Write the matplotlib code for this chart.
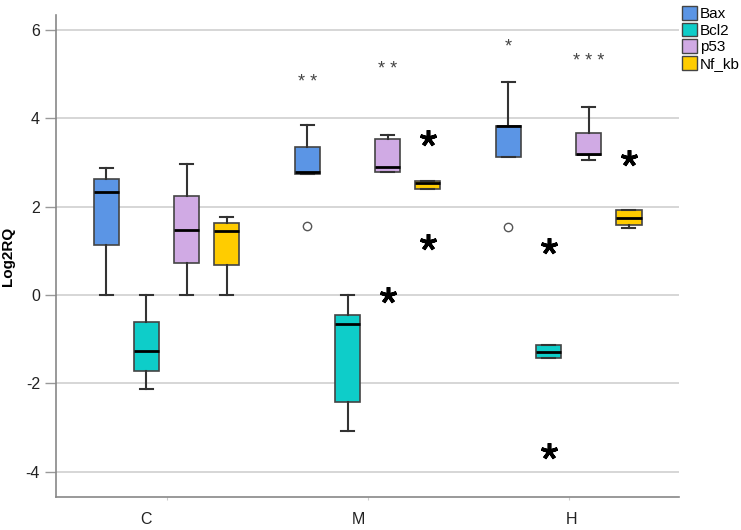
import numpy as np
import matplotlib.pyplot as plt
from matplotlib.patches import Patch
from matplotlib.transforms import ScaledTranslation

plt.rcParams["font.family"] = ["Liberation Sans", "DejaVu Sans"]
plt.rcParams["axes.unicode_minus"] = False

# === Data ===
groups = ["C", "M", "H"]
genes = ["Bax", "Bcl2", "p53", "Nf_kb"]
colors = ["#5B95E5", "#0ECDC9", "#D0AAE4", "#FFCC00"]

# per gene: [C, M, H]
whislo = {"Bax": [0.0, 2.73, 3.12], "Bcl2": [-2.13, -3.08, -1.43],
          "p53": [0.0, 2.78, 3.05], "Nf_kb": [0.0, 2.39, 1.51]}
q1 = {"Bax": [1.13, 2.73, 3.12], "Bcl2": [-1.72, -2.43, -1.43],
      "p53": [0.72, 2.78, 3.17], "Nf_kb": [0.68, 2.39, 1.59]}
med = {"Bax": [2.33, 2.78, 3.82], "Bcl2": [-1.26, -0.66, -1.28],
       "p53": [1.47, 2.89, 3.18], "Nf_kb": [1.45, 2.53, 1.75]}
q3 = {"Bax": [2.62, 3.35, 3.82], "Bcl2": [-0.60, -0.45, -1.14],
      "p53": [2.23, 3.54, 3.67], "Nf_kb": [1.64, 2.57, 1.92]}
whishi = {"Bax": [2.87, 3.85, 4.83], "Bcl2": [0.0, 0.0, -1.14],
          "p53": [2.97, 3.63, 4.26], "Nf_kb": [1.76, 2.57, 1.92]}
outliers = {"Bax": [[], [1.55], [1.53]], "Bcl2": [[], [], []],
            "p53": [[], [], []], "Nf_kb": [[], [], []]}
extremes = {"Bax": [[], [], []], "Bcl2": [[], [], [1.10, -3.53]],
            "p53": [[], [0.0], []], "Nf_kb": [[], [3.55, 1.21], [3.10]]}

# significance marks: (group, gene, text, y)
signif = [("M", "Bax", "* *", 4.80), ("M", "p53", "* *", 5.10),
          ("H", "Bax", "*", 5.60), ("H", "p53", "* * *", 5.29)]

# === Layout ===
offsets = [-0.3, -0.1, 0.1, 0.3]
box_w = 0.125

fig = plt.figure(figsize=(7.41, 5.30), dpi=100)
ax = fig.add_axes([0.0756, 0.0623, 0.841, 0.909])

for gi, gene in enumerate(genes):
    stats = []
    pos = []
    for k, g in enumerate(groups):
        stats.append(dict(whislo=whislo[gene][k], q1=q1[gene][k], med=med[gene][k],
                          q3=q3[gene][k], whishi=whishi[gene][k],
                          fliers=outliers[gene][k]))
        pos.append(k + offsets[gi])
    ax.bxp(stats, positions=pos, widths=box_w, patch_artist=True,
           showfliers=True, capwidths=0.065,
           boxprops=dict(facecolor=colors[gi], edgecolor="#444444", linewidth=1.2),
           medianprops=dict(color="black", linewidth=2),
           whiskerprops=dict(color="#333333", linewidth=1.5),
           capprops=dict(color="#333333", linewidth=1.5),
           flierprops=dict(marker="o", markerfacecolor="none",
                           markeredgecolor="#555555", markersize=6, markeredgewidth=1))
    for k in range(len(groups)):
        ys = extremes[gene][k]
        if ys:
            ax.plot([k + offsets[gi]] * len(ys), ys, linestyle="none",
                    marker=(5, 2, 0), markersize=12, markeredgewidth=2.6,
                    color="black", zorder=5)

for g, gene, txt, y in signif:
    x = groups.index(g) + offsets[genes.index(gene)]
    ax.text(x, y, txt, ha="center", va="center", fontsize=13, color="#444444")

ax.set_xlim(-0.55, 2.55)
ax.set_ylim(-4.57, 6.33)
ax.set_xticks(range(len(groups)))
ax.set_xticklabels(groups, fontsize=11.5, color="#222222")
ax.set_yticks([-4, -2, 0, 2, 4, 6])
ax.tick_params(axis="y", labelsize=11.5, colors="#222222", length=8, color="#999999", width=1)
ax.tick_params(axis="x", length=2, color="#cccccc", pad=9)
# SPSS places the category labels slightly off their ticks
for lab, dx in zip(ax.get_xticklabels(), [-21, -9, 3]):
    lab.set_transform(lab.get_transform() + ScaledTranslation(dx / 100, 0, fig.dpi_scale_trans))

ax.grid(axis="y", color="#cfcfcf", linewidth=1.2)
ax.set_axisbelow(True)
for s in ["top", "right"]:
    ax.spines[s].set_visible(False)
for s in ["left", "bottom"]:
    ax.spines[s].set_color("#888888")
    ax.spines[s].set_linewidth(1.2)

ax.set_ylabel("Log2RQ", fontsize=11, fontweight="bold", labelpad=8)

handles = [Patch(facecolor=c, edgecolor="#444444", label=g) for g, c in zip(genes, colors)]
fig.legend(handles=handles, loc="upper left", bbox_to_anchor=(0.912, 1.0),
           frameon=False, fontsize=11, handlelength=1.0, handleheight=1.0,
           handletextpad=0.2, labelspacing=0.1, borderaxespad=0.2, borderpad=0.2)

plt.savefig("out.png", dpi=100)
